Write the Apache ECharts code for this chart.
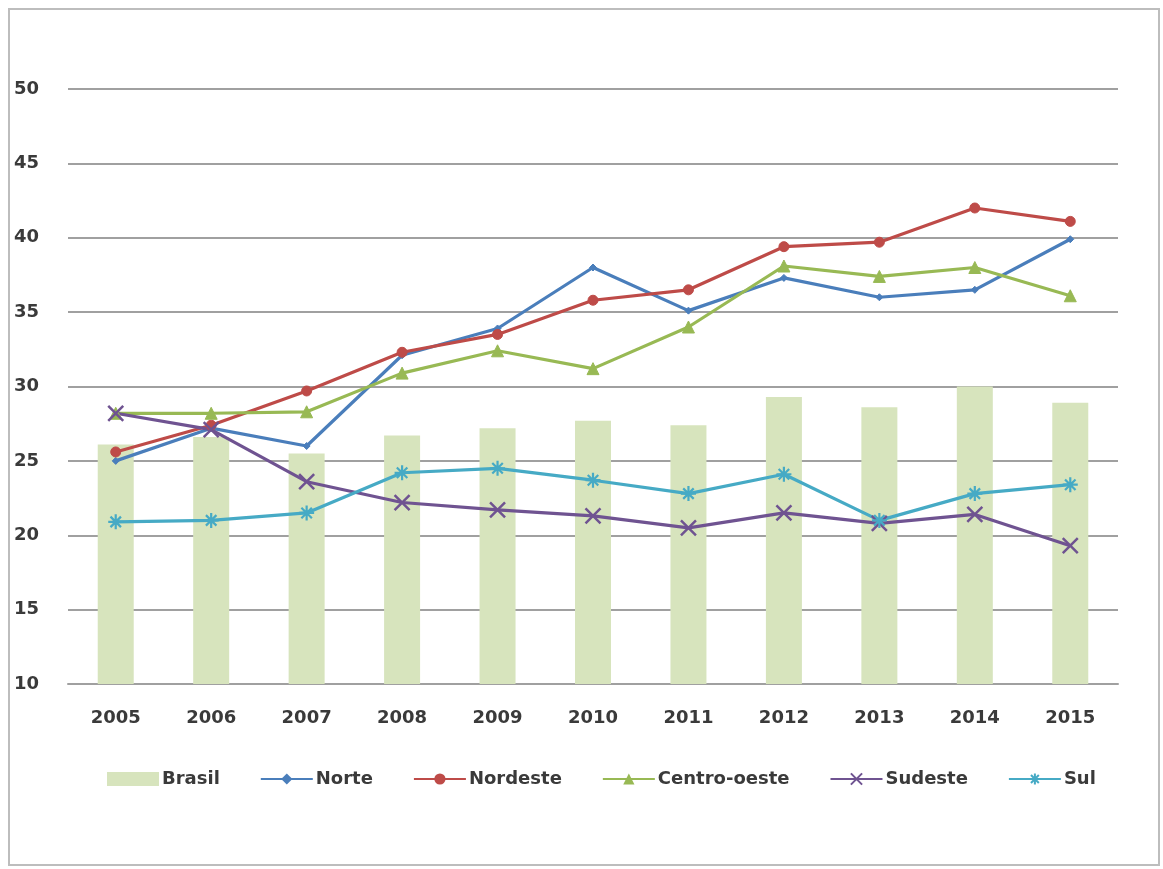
<!DOCTYPE html>
<html><head><meta charset="utf-8">
<script src="https://cdn.jsdelivr.net/npm/echarts@6/dist/echarts.min.js"></script>
<style>html,body{margin:0;padding:0;background:#fff;}#c{width:1163px;height:869px;}</style>
</head><body><div id="c"></div>
<script>
const categories = ['2005','2006','2007','2008','2009','2010','2011','2012','2013','2014','2015'];
const brasil = [26.1, 26.6, 25.5, 26.7, 27.2, 27.7, 27.4, 29.3, 28.6, 30.0, 28.9];
const norte = [25.0, 27.2, 26.0, 32.1, 33.9, 38.0, 35.1, 37.3, 36.0, 36.5, 39.9];
const nordeste = [25.6, 27.4, 29.7, 32.3, 33.5, 35.8, 36.5, 39.4, 39.7, 42.0, 41.1];
const centroOeste = [28.2, 28.2, 28.3, 30.9, 32.4, 31.2, 34.0, 38.1, 37.4, 38.0, 36.1];
const sudeste = [28.2, 27.1, 23.6, 22.2, 21.7, 21.3, 20.5, 21.5, 20.8, 21.4, 19.3];
const sul = [20.9, 21.0, 21.5, 24.2, 24.5, 23.7, 22.8, 24.1, 21.0, 22.8, 23.4];
const yTicks = [10, 15, 20, 25, 30, 35, 40, 45, 50];

const FONT = '"DejaVu Sans", sans-serif';
const xPath = 'path://M0,0L10,10M10,0L0,10';
const starPath = 'path://M0,5L10,5M5,0L5,10M1.5,1.5L8.5,8.5M8.5,1.5L1.5,8.5';

function lineSeries(name, data, color, symbol, size, extra) {
  return Object.assign({
    name, type: 'line', data,
    lineStyle: { color, width: 3.2 },
    itemStyle: { color, borderColor: color },
    symbol, symbolSize: size, showSymbol: true, z: 3
  }, extra || {});
}

const chart = echarts.init(document.getElementById('c'), null, { renderer: 'canvas' });
chart.setOption({
  backgroundColor: '#ffffff',
  animation: false,
  graphic: [{
    type: 'rect', shape: { x: 9, y: 9, width: 1150, height: 856 },
    style: { fill: 'none', stroke: '#bdbdbd', lineWidth: 2 }, silent: true, z: -1
  }],
  grid: { left: 68, right: 45, top: 89, bottom: 185, containLabel: false },
  xAxis: {
    type: 'category', data: categories,
    axisLine: { show: true, lineStyle: { color: '#a0a0a0', width: 2 } },
    axisTick: { show: false },
    axisLabel: { color: '#3a3a3a', fontFamily: FONT, fontWeight: 'bold', fontSize: 18, margin: 25 }
  },
  yAxis: {
    type: 'value', min: yTicks[0], max: yTicks[yTicks.length - 1], interval: 5,
    axisLine: { show: false }, axisTick: { show: false },
    splitLine: { lineStyle: { color: '#a0a0a0', width: 2 } },
    axisLabel: { color: '#3a3a3a', fontFamily: FONT, fontWeight: 'bold', fontSize: 18, margin: 54, align: 'left' }
  },
  legend: {
    bottom: 76, left: 102, itemGap: 40, itemWidth: 52, itemHeight: 14,
    textStyle: { color: '#3a3a3a', fontFamily: FONT, fontWeight: 'bold', fontSize: 18, padding: [0, 0, 0, -2] },
    data: [{ name: 'Brasil', icon: 'rect', itemStyle: { color: '#d7e4bd' } }, 'Norte', 'Nordeste', 'Centro-oeste', 'Sudeste', 'Sul']
  },
  series: [
    { name: 'Brasil', type: 'bar', data: brasil, barWidth: 36,
      itemStyle: { color: '#d7e4bd' }, z: 1 },
    lineSeries('Norte', norte, '#4a7ebb', 'diamond', 7),
    lineSeries('Nordeste', nordeste, '#be4b48', 'circle', 10),
    lineSeries('Centro-oeste', centroOeste, '#98b954', 'triangle', 12),
    lineSeries('Sudeste', sudeste, '#6f5391', xPath, 15,
      { itemStyle: { color: 'none', borderColor: '#6f5391', borderWidth: 2.5 } }),
    lineSeries('Sul', sul, '#46aac5', starPath, 15,
      { itemStyle: { color: 'none', borderColor: '#46aac5', borderWidth: 2.2 } })
  ]
});
</script></body></html>
